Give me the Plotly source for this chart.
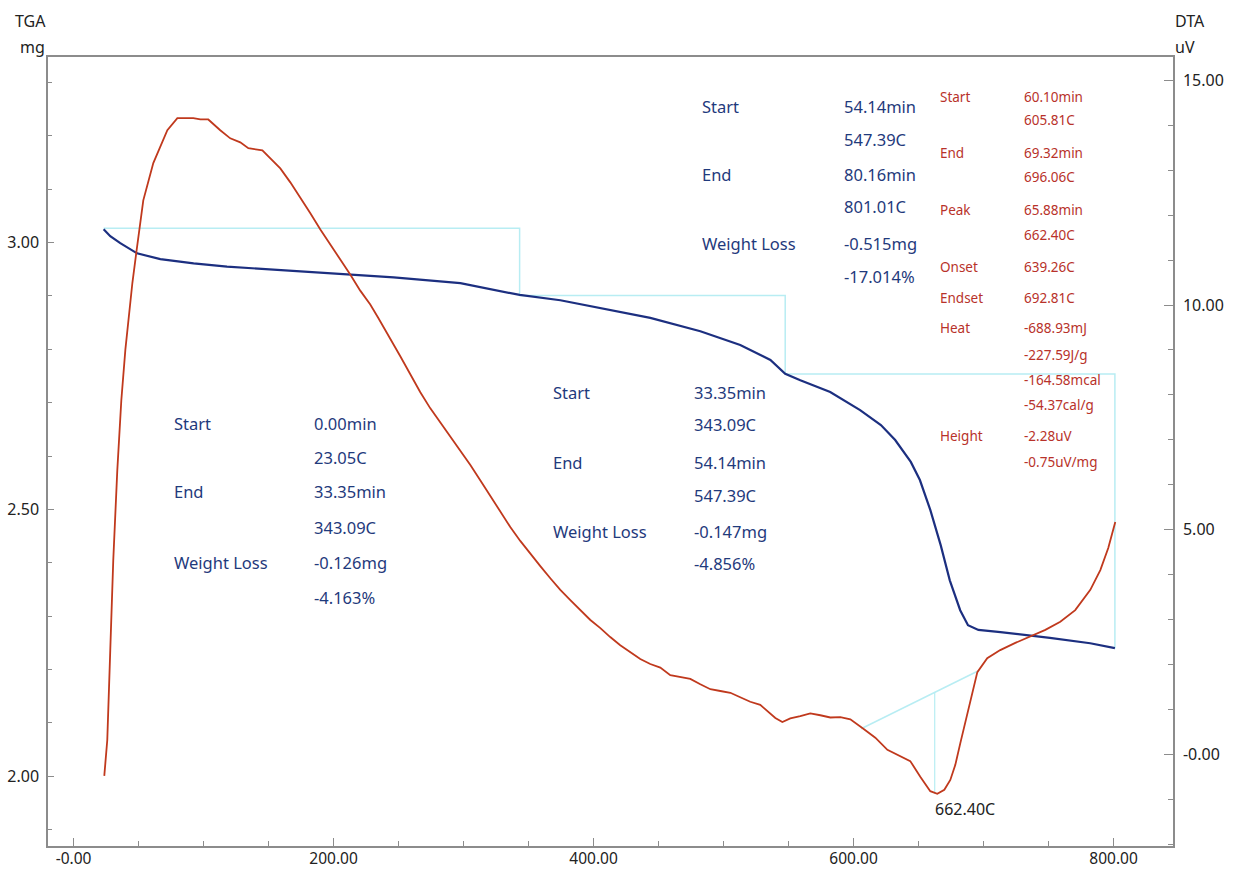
import plotly.graph_objects as go

# ---------------- data ----------------
# DTA curve: temperature (C) vs signal (uV), right axis
dta_temp = [23.6, 24.4, 25.9, 28.2, 30.5, 33.6, 36.7, 39.8, 42.1, 45.2, 48.2, 53.6, 61.3, 72.1,
            79.8, 92.1, 97.5, 103.6, 112.8, 120.5, 128.2, 134.4, 145.2, 151.3, 159.0, 166.7,
            174.4, 182.1, 189.8, 197.5, 205.2, 212.8, 220.5, 228.2, 234.4, 243.6, 251.3, 259.0,
            266.7, 274.4, 282.1, 289.8, 297.5, 305.2, 312.8, 320.5, 328.2, 335.9, 343.6, 351.3,
            359.0, 366.7, 374.4, 382.1, 389.8, 397.5, 405.2, 412.8, 420.5, 428.2, 435.9, 443.6,
            451.3, 459.0, 466.7, 474.4, 482.1, 489.8, 497.5, 505.2, 512.8, 520.5, 528.2, 534.4,
            539.8, 545.2, 551.3, 559.0, 566.7, 574.4, 582.1, 589.8, 597.5, 607.5, 616.7, 626.0,
            634.4, 643.6, 651.3, 659.0, 664.4, 669.8, 674.4, 678.2, 682.1, 686.0, 689.8, 695.2,
            702.8, 712.8, 724.4, 735.9, 747.5, 759.0, 770.5, 782.1, 789.8, 795.9, 801.3]
dta_uv = [-0.48, -0.24, 0.32, 2.32, 4.32, 6.32, 7.88, 9.00, 9.71, 10.49, 11.16, 12.33, 13.16, 13.89,
          14.16, 14.16, 14.13, 14.13, 13.89, 13.71, 13.62, 13.49, 13.44, 13.26, 13.04, 12.73,
          12.40, 12.04, 11.68, 11.35, 11.02, 10.68, 10.32, 10.01, 9.71, 9.26, 8.86, 8.46,
          8.06, 7.70, 7.39, 7.08, 6.77, 6.44, 6.10, 5.75, 5.39, 5.06, 4.75, 4.46,
          4.19, 3.92, 3.66, 3.43, 3.21, 2.99, 2.81, 2.61, 2.43, 2.28, 2.12, 2.01,
          1.93, 1.76, 1.72, 1.68, 1.56, 1.45, 1.41, 1.37, 1.27, 1.17, 1.10, 0.94,
          0.81, 0.72, 0.80, 0.85, 0.91, 0.87, 0.82, 0.83, 0.78, 0.57, 0.37, 0.10,
          -0.02, -0.15, -0.50, -0.82, -0.88, -0.79, -0.57, -0.24, 0.25, 0.72, 1.14, 1.83,
          2.14, 2.32, 2.48, 2.63, 2.77, 2.95, 3.21, 3.66, 4.10, 4.59, 5.17]

# TGA curve: temperature (C) vs mass (mg), left axis
tga_temp = [23.1, 28.2, 35.9, 48.8, 66.7, 92.3, 118.0, 169.2, 212.8, 246.2, 297.5, 343.1, 374.4,
            405.2, 443.6, 482.1, 512.8, 536.0, 547.4, 559.0, 582.0, 605.0, 621.0, 632.0, 644.0,
            651.0, 659.0, 667.0, 674.0, 682.0, 688.0, 696.0, 713.0, 751.0, 782.0, 801.0]
tga_mg = [3.025, 3.012, 2.999, 2.980, 2.969, 2.961, 2.955, 2.947, 2.941, 2.935, 2.924, 2.902, 2.892,
          2.877, 2.859, 2.834, 2.808, 2.780, 2.754, 2.742, 2.720, 2.686, 2.658, 2.630, 2.589,
          2.555, 2.499, 2.433, 2.367, 2.311, 2.283, 2.274, 2.270, 2.259, 2.249, 2.240]

# TGA step analysis marks
step_temp = [23.05, 343.09, 547.39, 801.01]
step_mg = [3.027, 2.901, 2.754, 2.239]

# DTA peak analysis: baseline and peak drop line
base_temp = [605.81, 696.06]
base_uv = [0.57, 1.86]
peak_temp = [662.40, 662.40]
peak_uv = [1.38, -0.88]
peak_label = "662.40C"

# x / y tick labels
x_tickvals = [0, 200, 400, 600, 800]
x_ticktext = ["-0.00", "200.00", "400.00", "600.00", "800.00"]
y1_tickvals = [2.0, 2.5, 3.0]
y1_ticktext = ["2.00", "2.50", "3.00"]
y2_tickvals = [0, 5, 10, 15]
y2_ticktext = ["-0.00", "5.00", "10.00", "15.00"]

# analysis text blocks
g1_labels = ["Start", "", "End", "", "Weight Loss", ""]
g1_values = ["0.00min", "23.05C", "33.35min", "343.09C", "-0.126mg", "-4.163%"]
g2_labels = ["Start", "", "End", "", "Weight Loss", ""]
g2_values = ["33.35min", "343.09C", "54.14min", "547.39C", "-0.147mg", "-4.856%"]
g3_labels = ["Start", "", "End", "", "Weight Loss", ""]
g3_values = ["54.14min", "547.39C", "80.16min", "801.01C", "-0.515mg", "-17.014%"]
g4_labels = ["Start", "", "End", "", "Peak", "", "Onset", "Endset", "Heat", "", "", "", "Height", ""]
g4_values = ["60.10min", "605.81C", "69.32min", "696.06C", "65.88min", "662.40C", "639.26C",
             "692.81C", "-688.93mJ", "-227.59J/g", "-164.58mcal", "-54.37cal/g", "-2.28uV",
             "-0.75uV/mg"]

# ---------------- styling / layout positions ----------------
W, H = 1234, 873
PL, PR, PT, PB = 48, 1173, 57, 846  # plot box in pixels
FONT = "Noto Sans"
NAVY = "#1f3a7c"
RED_TXT = "#b8322a"
BLUE_LINE = "#1c2f80"
RED_LINE = "#c0391d"
CYAN = "#b8edf3"
AX = "#8c8c8c"


def px(x):
    return (x - PL) / (PR - PL)


def py(y):
    return (PB - y) / (PB - PT)


fig = go.Figure()

fig.add_trace(go.Scatter(x=step_temp, y=step_mg, mode="lines", line=dict(color=CYAN, width=1.5, shape="hv"),
                         yaxis="y", hoverinfo="skip"))
fig.add_trace(go.Scatter(x=base_temp, y=base_uv, mode="lines", line=dict(color=CYAN, width=1.5),
                         yaxis="y2", hoverinfo="skip"))
fig.add_trace(go.Scatter(x=peak_temp, y=peak_uv, mode="lines", line=dict(color=CYAN, width=1.2),
                         yaxis="y2", hoverinfo="skip"))
fig.add_trace(go.Scatter(x=dta_temp, y=dta_uv, mode="lines", line=dict(color=RED_LINE, width=1.8),
                         yaxis="y2", hoverinfo="skip"))
fig.add_trace(go.Scatter(x=tga_temp, y=tga_mg, mode="lines", line=dict(color=BLUE_LINE, width=2.2),
                         yaxis="y", hoverinfo="skip"))

annotations = []


def add_text(text, x, y, color, size, xanchor="left"):
    if not text:
        return
    annotations.append(dict(text=text, x=px(x), y=py(y), xref="paper", yref="paper",
                            xanchor=xanchor, yanchor="middle", showarrow=False,
                            font=dict(family=FONT, size=size, color=color)))


def add_group(labels, values, xl, xv, rows, color, size):
    for lab, val, r in zip(labels, values, rows):
        add_text(lab, xl, r, color, size)
        add_text(val, xv, r, color, size)


add_group(g1_labels, g1_values, 172, 312, [423, 457, 492, 527, 562, 597], NAVY, 16.5)
add_group(g2_labels, g2_values, 551, 692, [392, 424, 462, 495, 531, 563], NAVY, 16.5)
add_group(g3_labels, g3_values, 700, 842, [106, 139, 174, 207, 243, 276], NAVY, 16.5)
add_group(g4_labels, g4_values, 938, 1022,
          [97, 120, 153, 177, 210, 235, 267, 298, 328, 355, 380, 405, 436, 462], RED_TXT, 13.5)

# peak temperature label
annotations.append(dict(text=peak_label, x=peak_temp[0], y=-0.88, xref="x", yref="y2",
                        xanchor="left", yanchor="top", xshift=-2, yshift=-2, showarrow=False,
                        font=dict(family=FONT, size=16, color="#222222")))

# axis titles
add_text("TGA", 48, 21, "#222222", 16, xanchor="right")
add_text("mg", 47, 47, "#222222", 16, xanchor="right")
add_text("DTA", 1173, 21, "#222222", 16)
add_text("uV", 1173, 47, "#222222", 16)

minor_x = [v for v in range(0, 850, 50) if v not in x_tickvals]
minor_y1 = [round(1.9 + 0.1 * i, 2) for i in range(15)]
minor_y1 = [v for v in minor_y1 if v not in y1_tickvals]
minor_y2 = [v for v in range(-2, 16) if v not in y2_tickvals]

tickfont = dict(family=FONT, size=16, color="#222222")

fig.update_layout(
    width=W, height=H,
    margin=dict(l=PL, r=W - PR, t=PT, b=H - PB, pad=0, autoexpand=False),
    paper_bgcolor="white", plot_bgcolor="white",
    showlegend=False,
    annotations=annotations,
    xaxis=dict(range=[-19.7, 845.7], tickmode="array", tickvals=x_tickvals, ticktext=x_ticktext,
               ticks="inside", ticklen=8, tickwidth=1.2, tickcolor=AX, showline=True, linecolor=AX,
               linewidth=1.5, mirror=True, showgrid=False, zeroline=False,
               tickfont=dict(family=FONT, size=15.5, color="#222222"),
               automargin=False, ticklabelstandoff=-2,
               minor=dict(tickmode="array", tickvals=minor_x, ticks="inside", ticklen=5,
                          tickcolor=AX, tickwidth=1, showgrid=False)),
    yaxis=dict(range=[1.869, 3.348], tickmode="array", tickvals=y1_tickvals, ticktext=y1_ticktext,
               ticks="inside", ticklen=6, tickwidth=1.2, tickcolor=AX, showline=True, linecolor=AX,
               linewidth=1.5, showgrid=False, zeroline=False, tickfont=tickfont,
               automargin=False, ticklabelstandoff=4,
               minor=dict(tickmode="array", tickvals=minor_y1, ticks="inside", ticklen=4,
                          tickcolor=AX, tickwidth=1, showgrid=False)),
    yaxis2=dict(range=[-2.04, 15.52], overlaying="y", side="right", tickmode="array",
                tickvals=y2_tickvals, ticktext=y2_ticktext, ticks="inside", ticklen=9, tickwidth=1.2,
                tickcolor=AX, showline=True, linecolor=AX, linewidth=1.5, showgrid=False,
                zeroline=False, tickfont=tickfont, automargin=False, ticklabelstandoff=5,
                minor=dict(tickmode="array", tickvals=minor_y2, ticks="inside", ticklen=5,
                           tickcolor=AX, tickwidth=1, showgrid=False)),
)

fig.write_html("out.html", config={"displayModeBar": False},
               post_script="document.body.style.margin='0px';")
